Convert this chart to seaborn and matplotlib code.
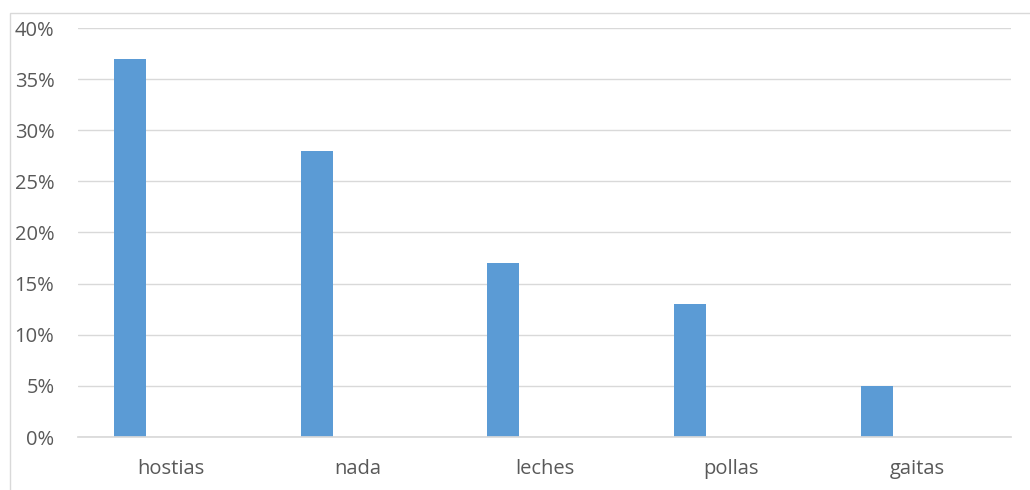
import pandas as pd
import numpy as np
import seaborn as sns
import matplotlib.pyplot as plt
from matplotlib.patches import Rectangle
from matplotlib.ticker import PercentFormatter

# datos
categorias = ["hostias", "nada", "leches", "pollas", "gaitas"]
valores = [0.37, 0.28, 0.17, 0.13, 0.05]
valores_serie2 = [0, 0, 0, 0, 0]  # la segunda serie va vacia
series = ["Serie1", "Serie2"]

df = pd.concat([
    pd.DataFrame({"categoria": categorias, "valor": valores, "serie": series[0]}),
    pd.DataFrame({"categoria": categorias, "valor": valores_serie2, "serie": series[1]}),
])

sns.set_theme(style="white")
plt.rcParams["font.family"] = ["Open Sans", "DejaVu Sans"]

fig = plt.figure(figsize=(10.3, 4.9), dpi=100)
ax = fig.add_axes([78 / 1030, 1 - 437 / 490, 933 / 1030, 409 / 490])

sns.barplot(data=df, x="categoria", y="valor", hue="serie", hue_order=series,
            order=categorias, palette=["#5b9bd5", "#ed7d31"], width=0.88, gap=0.61,
            saturation=1, linewidth=0, errorbar=None, legend=False, ax=ax)

ax.set_ylim(0, 0.40)
ax.set_yticks(np.arange(0, 0.41, 0.05))
ax.yaxis.set_major_formatter(PercentFormatter(1.0, decimals=0))
ax.grid(axis="y", color="#d9d9d9", linewidth=1.0)
ax.set_axisbelow(True)
for s in ["top", "right", "left"]:
    ax.spines[s].set_visible(False)
ax.spines["bottom"].set_color("#d9d9d9")
ax.tick_params(axis="both", length=0, labelsize=14.5, colors="#595959")
ax.tick_params(axis="y", pad=17)
ax.tick_params(axis="x", pad=16)
ax.set_xlabel("")
ax.set_ylabel("")

# marco del grafico (recortado a derecha y abajo)
fig.patches.append(Rectangle((10 / 1030, -0.1), 1.2, 1 - 13 / 490 + 0.1,
                             transform=fig.transFigure, fill=False,
                             edgecolor="#d9d9d9", linewidth=1.0))

fig.savefig("out.png", dpi=100)
